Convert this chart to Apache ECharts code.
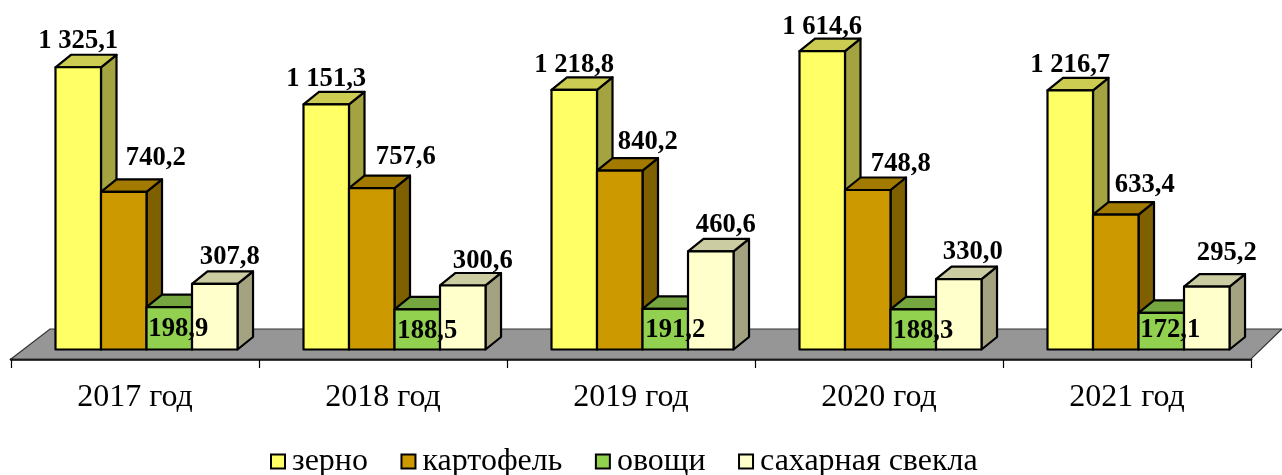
<!DOCTYPE html>
<html><head><meta charset="utf-8">
<style>html,body{margin:0;padding:0;background:#fff}#c{width:1282px;height:475px}</style>
<script src="https://cdn.jsdelivr.net/npm/echarts@6/dist/echarts.min.js"></script>
</head><body><div id="c"></div>
<script>
const categories = ['2017 год','2018 год','2019 год','2020 год','2021 год'];
const zerno = [1325.1,1151.3,1218.8,1614.6,1216.7];
const kartofel = [740.2,757.6,840.2,748.8,633.4];
const ovoshchi = [198.9,188.5,191.2,188.3,172.1];
const svekla = [307.8,300.6,460.6,330.0,295.2];
const seriesNames = ['зерно','картофель','овощи','сахарная свекла'];
const frontColors = ['#FFFF66','#CC9900','#92D050','#FFFFCC'];
const topColors = ['#CCCC52','#A37A00','#75A640','#CCCCA3'];
const sideColors = ['#A3A341','#7F6000','#587D30','#A3A382'];
// hand-placed label offsets in the reference, px from the front-top centre of each bar
const labelDx = [[0,0,0,0,0],[32,34,28,33,29],[9,10,10,10,9],[15,20,15,14,20]];
const labelDy = [[-26,-25,-25,-24,-25],[-34,-31,-28,-26,-29],[22,22,21,22,17],[-27,-24,-26,-27,-34]];
const valuesBySeries = [zerno,kartofel,ovoshchi,svekla];

const DX=15.5, DY=-12.5, FONT='"Liberation Serif","Times New Roman",serif';
const fmt = v => { const s=v.toFixed(1).split('.'); return s[0].replace(/\B(?=(\d{3})+$)/g,' ')+','+s[1]; };
const line = {stroke:'#000',lineWidth:2.2,lineJoin:'round'};

function makeBar(si){
  return function(params,api){
    const i=api.value(0), v=api.value(1);
    const band=api.size([1,0])[0];
    const w=band*0.1835;
    const top=api.coord([i,v]), base=api.coord([i,0]);
    const x=top[0]-band/2+band*0.1774+si*w+0.5;
    const x2=x+w, yT=top[1], yB=base[1];
    const poly=(pts,fill)=>({type:'polygon',z2:si,shape:{points:pts},style:Object.assign({fill},line)});
    return {type:'group',children:[
      poly([[x2,yB],[x2+DX,yB+DY],[x2+DX,yT+DY],[x2,yT]],sideColors[si]),
      poly([[x,yT],[x+DX,yT+DY],[x2+DX,yT+DY],[x2,yT]],topColors[si]),
      poly([[x,yB],[x,yT],[x2,yT],[x2,yB]],frontColors[si]),
      {type:'text',z2:20,style:{text:fmt(v),x:x+w/2+labelDx[si][i],y:yT+labelDy[si][i],
        textAlign:'center',textVerticalAlign:'middle',fill:'#000',font:'bold 26.6px '+FONT}}
    ]};
  };
}
function floor(params,api){
  const c=params.coordSys, l=c.x, r=c.x+c.width, f=c.y+c.height+9.5, b=f-30;
  return {type:'polygon',z2:-5,silent:true,shape:{points:[[l,f],[l+39,b],[r+31,b],[r,f]]},
    style:{fill:'#969696',stroke:'#333',lineWidth:1.2}};
}
const chart=echarts.init(document.getElementById('c'),null,{renderer:'canvas'});
chart.setOption({
  animation:false,
  grid:{left:11,width:1240,top:33,height:316.5},
  legend:{left:265,top:440.5,itemWidth:14,itemHeight:14,itemGap:32.5,icon:'rect',selectedMode:false,
    textStyle:{fontFamily:FONT,fontSize:32,color:'#000',padding:[0,0,0,2]},data:seriesNames},
  xAxis:{type:'category',data:categories,offset:9.5,
    axisLine:{show:true,onZero:false,lineStyle:{color:'#000',width:2.5}},
    axisTick:{show:true,alignWithLabel:false,length:9,lineStyle:{color:'#000',width:1.2}},
    axisLabel:{fontFamily:FONT,fontSize:32,color:'#000',margin:23,interval:0},splitLine:{show:false}},
  yAxis:{type:'value',min:0,max:1700,show:false,splitLine:{show:false},
    breaks:[{start:1330,end:1544,gap:0}],breakArea:{show:false}},
  series:[
    {type:'custom',name:'__floor',coordinateSystem:'cartesian2d',renderItem:floor,data:[[0,0]],silent:true,z:2}
  ].concat(seriesNames.map((n,si)=>({
    type:'custom',name:n,coordinateSystem:'cartesian2d',z:2,
    itemStyle:{color:frontColors[si],borderColor:'#000',borderWidth:2},
    encode:{x:0,y:1},renderItem:makeBar(si),
    data:valuesBySeries[si].map((v,i)=>[i,v])
  })))
});
</script></body></html>
